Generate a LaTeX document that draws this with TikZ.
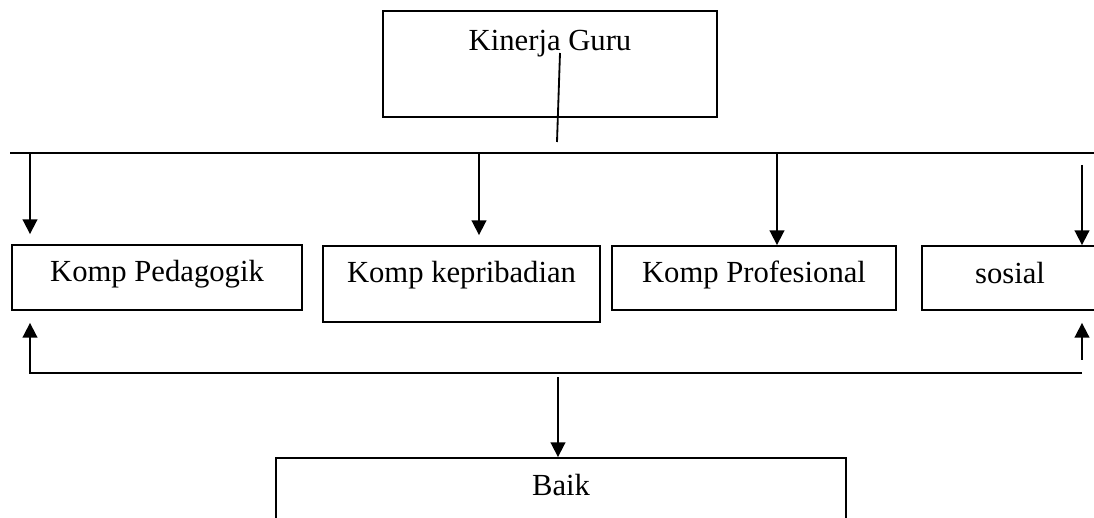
\documentclass[tikz,border=0pt]{standalone}
\usepackage{fontspec}
\setmainfont{Liberation Serif}
\usetikzlibrary{arrows.meta}

\tikzset{
    box/.style = {draw, line width=1.3pt, inner sep=0pt, anchor=base},
    arr/.style = {line width=1.3pt, -{Triangle[length=10.5pt, width=10.5pt]}},
}

\begin{document}
\begin{tikzpicture}[x=0.025cm, y=-0.025cm, font=\fontsize{21.8}{25}\selectfont]
        \useasboundingbox (0,0) rectangle (1094,518);
        \clip (0,0) rectangle (1094,518);

        \node[box, minimum width=8.35cm, text height=1cm, text depth=1.65cm] (guru) at (550, 51) {Kinerja Guru};

        \node[box, minimum width=7.25cm, text height=0.925cm, text depth=0.7cm] (peda) at (157, 282) {Komp Pedagogik};
        \node[box, minimum width=6.925cm, text height=0.925cm, text depth=0.975cm] (kepri) at (461.5, 283) {Komp kepribadian};
        \node[box, minimum width=7.1cm, text height=0.925cm, text depth=0.675cm] (prof) at (754, 283) {Komp Profesional};
        \node[box, minimum width=4.4cm, text height=0.95cm, text depth=0.65cm] (sosial) at (1010, 284) {sosial};

        \node[box, minimum width=14.25cm, text height=0.925cm, text depth=1.7cm] (baik) at (561, 495) {Baik};

        % top bar
        \coordinate (stem) at (560, 53);
        \coordinate (barL) at (10, 153);
        \coordinate (barR) at (1094, 153);
        \draw[line width=1.3pt] (stem) -- (557, 142);
        \draw[line width=1.3pt] (barL) -- (barR);

        \coordinate (d1) at (30, 153);
        \coordinate (d2) at (479, 153);
        \coordinate (d3) at (777, 153);
        \coordinate (d4) at (1082, 165);
        \draw[arr, shorten >=0.25cm] (d1) -- (d1 |- peda.north);
        \draw[arr, shorten >=0.25cm] (d2) -- (d2 |- kepri.north);
        \draw[arr] (d3) -- (d3 |- prof.north);
        \draw[arr] (d4) -- (d4 |- sosial.north);

        % bottom bar
        \coordinate (u1) at (30, 373);
        \coordinate (u2) at (1082, 373);
        \coordinate (u3) at (1082, 360);
        \draw[arr, shorten >=0.3cm] (u2) -- (u1) -- (u1 |- peda.south);
        \draw[arr, shorten >=0.3cm] (u3) -- (u3 |- sosial.south);

        \coordinate (b0) at (558, 377);
        \draw[arr] (b0) -- (b0 |- baik.north);
    \end{tikzpicture}
\end{document}
